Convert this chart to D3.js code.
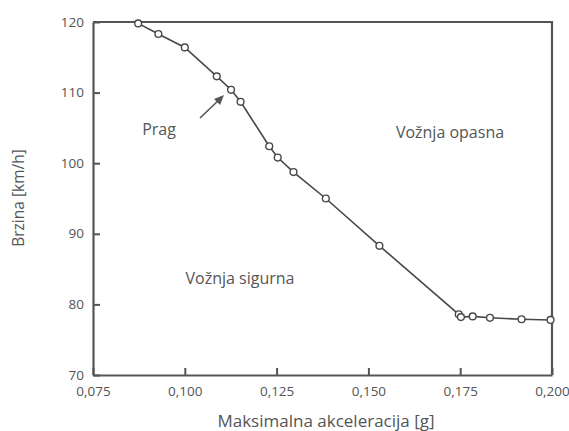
<!DOCTYPE html>
<html>
<head>
<meta charset="utf-8">
<script src="https://d3js.org/d3.v7.min.js"></script>
<style>
  body { margin: 0; background: #fff; }
  text { font-family: "Open Sans", sans-serif; fill: #555; }
</style>
</head>
<body>
<script>
    // values
    const accel = [0.0873, 0.0928, 0.1000, 0.1087, 0.1126, 0.1152, 0.1230, 0.1253, 0.1296,
                   0.1384, 0.1530, 0.1746, 0.1752, 0.1784, 0.1831, 0.1917, 0.1996];
    const speed = [119.8, 118.3, 116.4, 112.3, 110.4, 108.7, 102.4, 100.8, 98.75,
                   95.0, 88.3, 78.6, 78.2, 78.3, 78.1, 77.9, 77.8];
    const xTicks = [0.075, 0.100, 0.125, 0.150, 0.175, 0.200];
    const yTicks = [70, 80, 90, 100, 110, 120];

    const width = 569;
    const height = 431;
    const margin = {left: 93, right: 17, top: 22, bottom: 56};

    const x = d3.scaleLinear().domain([0.075, 0.2]).range([margin.left, width - margin.right]);
    const y = d3.scaleLinear().domain([70, 120]).range([height - margin.bottom, margin.top]);

    const svg = d3.select("body").append("svg")
        .attr("width", width)
        .attr("height", height);

    const fmt = d => d3.format(".3f")(d).replace(".", ",");

    // x axis, ticks pointing inward
    const gx = svg.append("g")
        .attr("transform", `translate(0,${y(70)})`)
        .call(d3.axisBottom(x).tickValues(xTicks).tickSizeInner(-7).tickSizeOuter(0).tickPadding(11).tickFormat(fmt));
    gx.selectAll(".tick")
        .filter((d, i) => i < xTicks.length - 1)
        .clone()
        .attr("transform", d => `translate(${x(d + 0.0125)},0)`)
        .call(t => t.select("text").remove())
        .select("line").attr("y2", -4);

    const gy = svg.append("g")
        .attr("transform", `translate(${x(0.075)},0)`)
        .call(d3.axisLeft(y).tickValues(yTicks).tickSizeInner(-7).tickSizeOuter(0).tickPadding(9));
    gy.selectAll(".tick")
        .filter((d, i) => i < yTicks.length - 1)
        .clone()
        .attr("transform", d => `translate(0,${y(d + 5)})`)
        .call(t => t.select("text").remove())
        .select("line").attr("x2", 4);

    svg.selectAll(".domain").attr("stroke", "#555").attr("stroke-width", 2.2);
    svg.selectAll(".tick line").attr("stroke", "#555").attr("stroke-width", 2);
    svg.selectAll(".tick text").attr("font-size", 13.5).attr("fill", "#555");
    gx.selectAll(".tick text").attr("dy", "0.71em");
    gy.selectAll(".tick text").attr("dy", "0.3em");

    // top and right frame
    svg.append("path")
        .attr("d", `M${x(0.075)},${y(120)}H${x(0.2)}V${y(70)}`)
        .attr("fill", "none")
        .attr("stroke", "#555")
        .attr("stroke-width", 2.2);

    const pts = accel.map((a, i) => [a, speed[i]]);

    svg.append("path")
        .datum(pts)
        .attr("fill", "none")
        .attr("stroke", "#484848")
        .attr("stroke-width", 1.6)
        .attr("d", d3.line().x(d => x(d[0])).y(d => y(d[1])));

    svg.append("g").selectAll("circle")
        .data(pts)
        .enter()
        .append("circle")
        .attr("cx", d => x(d[0]))
        .attr("cy", d => y(d[1]))
        .attr("r", 3.4)
        .attr("fill", "#fff")
        .attr("stroke", "#484848")
        .attr("stroke-width", 1.4);

    // annotations
    svg.append("text").attr("x", 159).attr("y", 135).attr("text-anchor", "middle")
        .attr("font-size", 16).text("Prag");
    svg.append("line")
        .attr("x1", 200).attr("y1", 118).attr("x2", 221).attr("y2", 98)
        .attr("stroke", "#555").attr("stroke-width", 1.6);
    svg.append("path")
        .attr("d", "M224,95 L214,99 L220,105 Z")
        .attr("fill", "#555");

    svg.append("text").attr("x", 450).attr("y", 138).attr("text-anchor", "middle")
        .attr("font-size", 16).text("Vožnja opasna");
    svg.append("text").attr("x", 240).attr("y", 284).attr("text-anchor", "middle")
        .attr("font-size", 16).text("Vožnja sigurna");

    svg.append("text").attr("x", 326).attr("y", 427).attr("text-anchor", "middle")
        .attr("font-size", 17).text("Maksimalna akceleracija [g]");
    svg.append("text").attr("transform", "translate(24,198) rotate(-90)")
        .attr("text-anchor", "middle")
        .attr("font-size", 15.5).text("Brzina [km/h]");
</script>
</body>
</html>
